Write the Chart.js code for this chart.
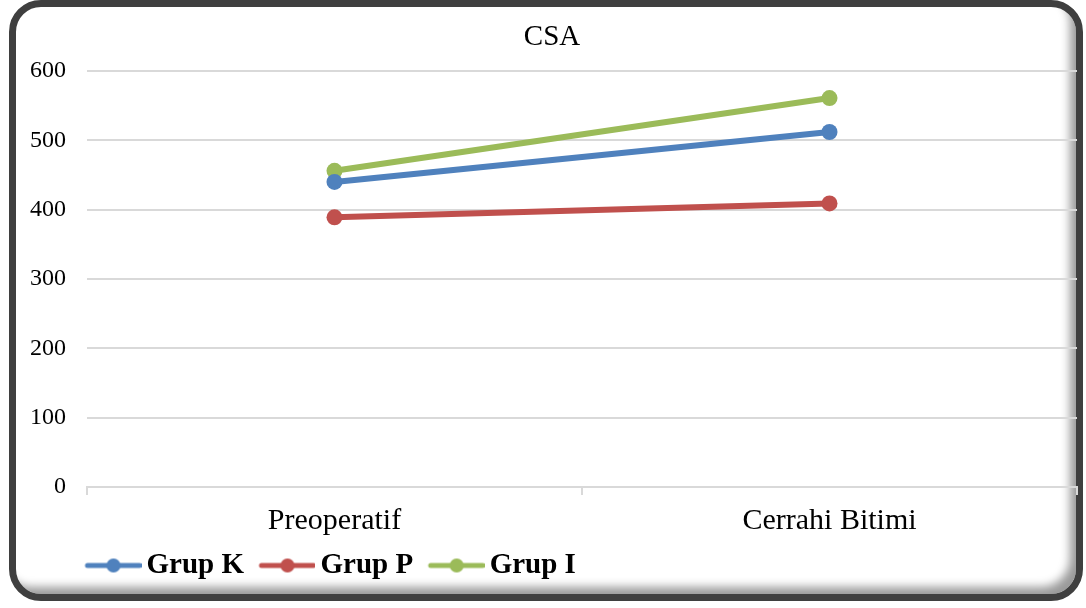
<!DOCTYPE html>
<html>
<head>
<meta charset="utf-8">
<script src="https://cdn.jsdelivr.net/npm/chart.js@4"></script>
<style>
  html, body { margin: 0; padding: 0; background: #fff; overflow: hidden; }
  #frame {
    position: absolute; left: 9px; top: 0; width: 1074px; height: 601px;
    box-sizing: border-box; border: 7px solid #3f3f3f; border-radius: 32px;
    background: #fff;
    box-shadow: inset -10px -11px 10px -4px rgba(0,0,0,0.4);
  }
  #wrap { position: absolute; left: 0; top: 0; width: 1086px; height: 608px; }
</style>
</head>
<body>
<div id="frame"></div>
<div id="wrap"><canvas id="csaChart" width="1086" height="608"></canvas></div>
<script>
//chart data
const categories = ['Preoperatif', 'Cerrahi Bitimi'];
const grup_k = [440, 512];
const grup_p = [389, 409];
const grup_i = [456, 561];
const series_names = ['Grup K', 'Grup P', 'Grup I'];
const series_colors = ['#4f81bd', '#c0504d', '#9bbb59'];

const serif = "'Liberation Serif', 'Times New Roman', serif";

//legend icons: short line with a dot in the middle
function makeIcon(color){
    const c = document.createElement('canvas');
    c.width = 71;
    c.height = 20;
    const g = c.getContext('2d');
    g.strokeStyle = color;
    g.lineWidth = 5;
    g.lineCap = 'round';
    g.beginPath();
    g.moveTo(17, 10);
    g.lineTo(69, 10);
    g.stroke();
    g.fillStyle = color;
    g.beginPath();
    g.arc(43, 10, 7, 0, Math.PI * 2);
    g.fill();
    return c;
}
const legend_icons = series_colors.map(makeIcon);

//move the legend row to the right of the tick labels
const legendInset = {
    id: 'legendInset',
    afterLayout(chart){
        if (chart.legend) {
            chart.legend.left = 70;
        }
    }
};

const values = [grup_k, grup_p, grup_i];

let chart = new Chart(document.getElementById('csaChart').getContext('2d'), {
    type: 'line',
    data: {
        labels: categories,
        datasets: series_names.map((name, i) => ({
            label: name,
            data: values[i],
            borderColor: series_colors[i],
            backgroundColor: series_colors[i],
            borderWidth: 6,
            pointRadius: 8,
            pointHoverRadius: 8,
            pointBorderWidth: 0,
            fill: false,
            tension: 0
        }))
    },
    options: {
        responsive: false,
        animation: false,
        layout: {
            padding: { left: 27, right: 9, top: 0, bottom: 18 }
        },
        plugins: {
            title: {
                display: true,
                text: 'CSA',
                color: '#000',
                font: { family: serif, size: 29, weight: 'normal' },
                padding: { top: 19.6, bottom: 16.6 }
            },
            legend: {
                position: 'bottom',
                align: 'start',
                labels: {
                    usePointStyle: true,
                    pointStyleWidth: 52,
                    padding: 10,
                    color: '#000',
                    font: { family: serif, size: 29, weight: 'bold' },
                    generateLabels: (c) => c.data.datasets.map((ds, i) => ({
                        text: ds.label,
                        pointStyle: legend_icons[i],
                        fillStyle: ds.borderColor,
                        strokeStyle: ds.borderColor,
                        lineWidth: 0,
                        fontColor: '#000',
                        hidden: false,
                        datasetIndex: i
                    }))
                }
            },
            tooltip: { enabled: false }
        },
        scales: {
            x: {
                offset: true,
                afterFit: (scale) => { scale.height = 54; },
                grid: {
                    offset: true,
                    drawOnChartArea: false,
                    tickLength: 8,
                    color: '#d9d9d9',
                    lineWidth: 2
                },
                border: { color: '#d9d9d9', width: 2 },
                ticks: {
                    color: '#000',
                    padding: 8,
                    font: { family: serif, size: 30 }
                }
            },
            y: {
                min: 0,
                max: 600,
                afterFit: (scale) => { scale.width = 60; },
                grid: {
                    color: '#d9d9d9',
                    lineWidth: 2,
                    drawTicks: false
                },
                border: { display: false },
                ticks: {
                    stepSize: 100,
                    color: '#000',
                    padding: 21,
                    font: { family: serif, size: 24 }
                }
            }
        }
    },
    plugins: [legendInset]
});
</script>
</body>
</html>
